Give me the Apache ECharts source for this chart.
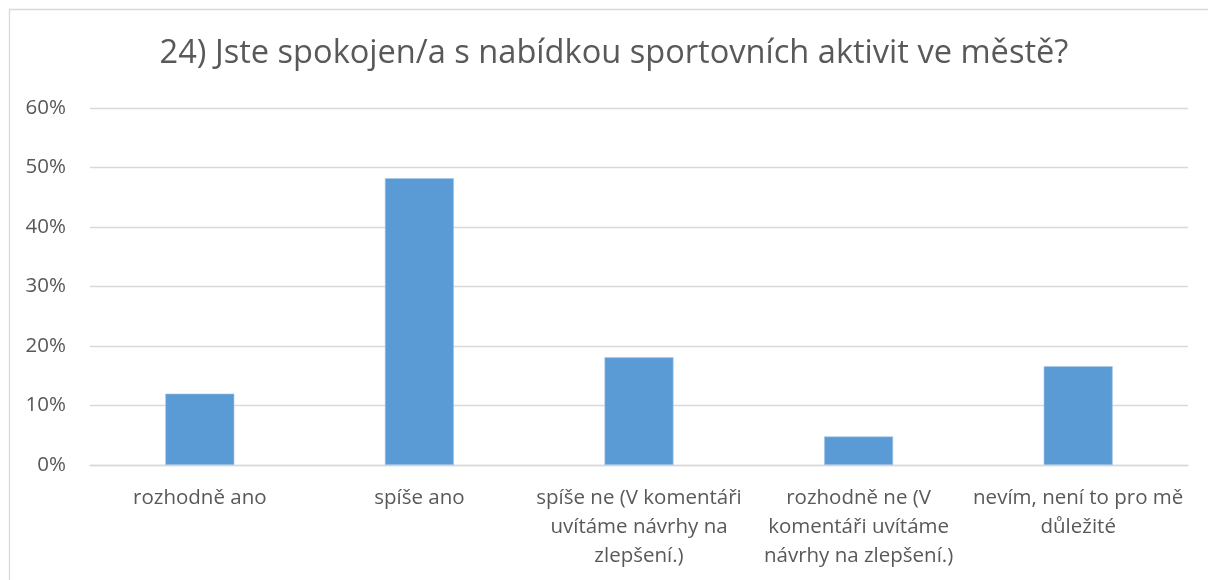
<!DOCTYPE html>
<html>
<head>
<meta charset="utf-8">
<script src="https://cdn.jsdelivr.net/npm/echarts@6/dist/echarts.min.js"></script>
<style>
  html, body { margin: 0; padding: 0; background: #ffffff; }
  #chart { width: 1208px; height: 580px; }
</style>
</head>
<body>
<div id="chart"></div>
<script>
// Survey question 24: satisfaction with sports activities in the town
const titleText = '24) Jste spokojen/a s nabídkou sportovních aktivit ve městě?';

const categories = [
  'rozhodně ano',
  'spíše ano',
  'spíše ne (V komentáři uvítáme návrhy na zlepšení.)',
  'rozhodně ne (V komentáři uvítáme návrhy na zlepšení.)',
  'nevím, není to pro mě důležité'
];

// Wrapped forms of the category names, one per line break
const categoryLines = [
  ['rozhodně ano'],
  ['spíše ano'],
  ['spíše ne (V komentáři', 'uvítáme návrhy na', 'zlepšení.)'],
  ['rozhodně ne (V', 'komentáři uvítáme', 'návrhy na zlepšení.)'],
  ['nevím, není to pro mě', 'důležité']
];

// Share of respondents, in percent
const shares = [12.0, 48.2, 18.1, 4.8, 16.6];

const yTicks = [0, 10, 20, 30, 40, 50, 60];

const FONT = 'Open Sans';
const TEXT = '#595959';

const chart = echarts.init(document.getElementById('chart'), null, { renderer: 'canvas' });

chart.setOption({
  animation: false,
  backgroundColor: '#ffffff',
  graphic: [{
    type: 'rect',
    shape: { x: 9.5, y: 9.5, width: 1400, height: 800 },
    style: { fill: 'none', stroke: '#d9d9d9', lineWidth: 1.3 },
    silent: true,
    z: -10
  }],
  title: {
    text: titleText,
    left: 609,
    top: 32,
    textAlign: 'center',
    textStyle: {
      fontFamily: FONT,
      fontSize: 32.6,
      fontWeight: 'normal',
      color: TEXT
    }
  },
  grid: {
    left: 90,
    right: 20,
    top: 108,
    bottom: 115,
    containLabel: false
  },
  xAxis: {
    type: 'category',
    data: categories,
    axisLine: { show: true, lineStyle: { color: '#d9d9d9', width: 1.3 } },
    axisTick: { show: false },
    axisLabel: {
      interval: 0,
      margin: 19,
      color: TEXT,
      fontFamily: FONT,
      fontSize: 20.5,
      lineHeight: 29,
      formatter: (value, idx) => categoryLines[idx].join('\n')
    }
  },
  yAxis: {
    type: 'value',
    min: yTicks[0],
    max: yTicks[yTicks.length - 1],
    interval: 10,
    axisLine: { show: false },
    axisTick: { show: false },
    splitLine: { lineStyle: { color: '#d9d9d9', width: 1.3 } },
    axisLabel: {
      margin: 24,
      color: TEXT,
      fontFamily: FONT,
      fontSize: 20.5,
      formatter: v => v + '%'
    }
  },
  series: [{
    type: 'bar',
    data: shares,
    barWidth: 69,
    itemStyle: {
      color: '#5b9bd5',
      borderColor: '#a9c8e8',
      borderWidth: 0.6
    }
  }]
});
</script>
</body>
</html>
